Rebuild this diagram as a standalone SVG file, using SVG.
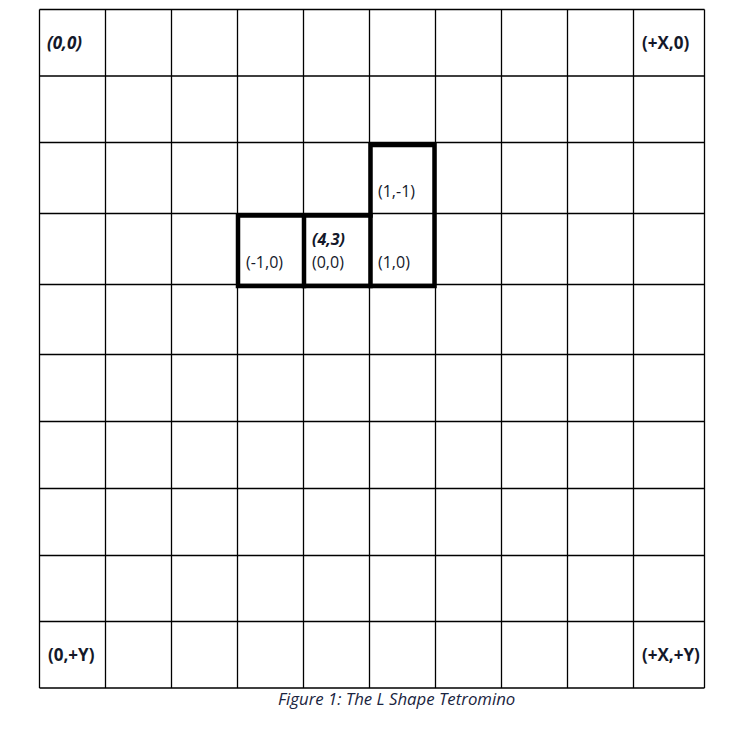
<svg xmlns="http://www.w3.org/2000/svg" width="732" height="732" viewBox="0 0 732 732">
<style>
.grid{stroke:#000;stroke-width:1.3;fill:none}
.thick{stroke:#000;stroke-width:4.5;fill:none;stroke-linecap:square}
.lbl{font-family:"Open Sans","Liberation Sans",sans-serif;font-size:16px;fill:#14182a}
.bi{font-weight:bold;font-style:italic}
.b{font-weight:bold}
.cap{font-family:"Open Sans","Liberation Sans",sans-serif;font-size:16.8px;font-style:italic;fill:#1a2440}
</style>
<rect width="732" height="732" fill="#fff"/>
<g id="grid" class="grid">
<path d="M39.5 9.5V688M105.5 9.5V688M171.5 9.5V688M237.5 9.5V688M303.5 9.5V688M369.5 9.5V688M435.5 9.5V688M501.5 9.5V688M567.5 9.5V688M633.5 9.5V688M704.5 9.5V688"/>
<path d="M39.5 9.5H704.5M39.5 76H704.5M39.5 142.5H704.5M39.5 213.5H704.5M39.5 284.5H704.5M39.5 354.5H704.5M39.5 421.5H704.5M39.5 488.5H704.5M39.5 555.5H704.5M39.5 621.5H704.5M39.5 688H704.5"/>
</g>
<g id="tetromino" class="thick">
<path d="M370.5 145H434.5V286H238V215.5H370.5Z"/>
<path d="M304 215.5V286M370.5 215.5V286"/>
</g>
<g id="corner-labels" class="lbl">
<text class="bi" x="47" y="49" font-size="17">(0,0)</text>
<text class="b" x="642" y="49" font-size="17">(+X,0)</text>
<text class="b" x="48" y="661" font-size="17">(0,+Y)</text>
<text class="b" x="642" y="661" font-size="17">(+X,+Y)</text>
</g>
<g id="cell-labels" class="lbl">
<text x="378" y="197">(1,-1)</text>
<text x="246" y="268">(-1,0)</text>
<text class="bi" x="312" y="245">(4,3)</text>
<text x="312" y="268">(0,0)</text>
<text x="378" y="268">(1,0)</text>
</g>
<text class="cap" x="278" y="705">Figure 1: The L Shape Tetromino</text>
</svg>
